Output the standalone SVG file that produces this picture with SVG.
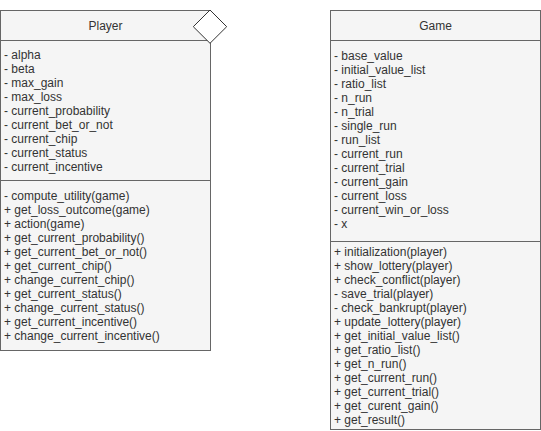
<svg xmlns="http://www.w3.org/2000/svg" width="541" height="431" viewBox="0 0 541 431">
<style>
.box{fill:#f5f5f5;stroke:#666666;stroke-width:1}
.sep{stroke:#666666;stroke-width:1;fill:none}
.t{font-family:"Liberation Sans",Arial,sans-serif;font-size:12px;fill:#333333}
.title{font-family:"Liberation Sans",Arial,sans-serif;font-size:12px;fill:#333333;text-anchor:middle}
.dia{fill:#ffffff;stroke:#333333;stroke-width:1}
</style>
<rect width="541" height="431" fill="#ffffff"/>
<g id="connectors"></g>
<g id="player">
<rect class="box" x="0.5" y="10.5" width="210" height="340"/>
<line class="sep" x1="0.5" y1="40.5" x2="210.5" y2="40.5"/>
<line class="sep" x1="0.5" y1="180.5" x2="210.5" y2="180.5"/>
<text class="title" x="105.5" y="30">Player</text>
<text class="t" x="4" y="59">- alpha</text>
<text class="t" x="4" y="73">- beta</text>
<text class="t" x="4" y="87">- max_gain</text>
<text class="t" x="4" y="101">- max_loss</text>
<text class="t" x="4" y="115">- current_probability</text>
<text class="t" x="4" y="129">- current_bet_or_not</text>
<text class="t" x="4" y="143">- current_chip</text>
<text class="t" x="4" y="157">- current_status</text>
<text class="t" x="4" y="171">- current_incentive</text>
<text class="t" x="4" y="200">- compute_utility(game)</text>
<text class="t" x="4" y="214">+ get_loss_outcome(game)</text>
<text class="t" x="4" y="228">+ action(game)</text>
<text class="t" x="4" y="242">+ get_current_probability()</text>
<text class="t" x="4" y="256">+ get_current_bet_or_not()</text>
<text class="t" x="4" y="270">+ get_current_chip()</text>
<text class="t" x="4" y="284">+ change_current_chip()</text>
<text class="t" x="4" y="298">+ get_current_status()</text>
<text class="t" x="4" y="312">+ change_current_status()</text>
<text class="t" x="4" y="326">+ get_current_incentive()</text>
<text class="t" x="4" y="340">+ change_current_incentive()</text>
</g>
<g id="diamond">
<polygon class="dia" points="210,10 226.7,26.7 210,43.3 193.3,26.7"/>
</g>
<g id="game">
<rect class="box" x="330.5" y="10.5" width="210" height="419"/>
<line class="sep" x1="330.5" y1="40.5" x2="540.5" y2="40.5"/>
<line class="sep" x1="330.5" y1="241.5" x2="540.5" y2="241.5"/>
<text class="title" x="435.5" y="30">Game</text>
<text class="t" x="334" y="60">- base_value</text>
<text class="t" x="334" y="74">- initial_value_list</text>
<text class="t" x="334" y="88">- ratio_list</text>
<text class="t" x="334" y="102">- n_run</text>
<text class="t" x="334" y="116">- n_trial</text>
<text class="t" x="334" y="130">- single_run</text>
<text class="t" x="334" y="144">- run_list</text>
<text class="t" x="334" y="158">- current_run</text>
<text class="t" x="334" y="172">- current_trial</text>
<text class="t" x="334" y="186">- current_gain</text>
<text class="t" x="334" y="200">- current_loss</text>
<text class="t" x="334" y="214">- current_win_or_loss</text>
<text class="t" x="334" y="228">- x</text>
<text class="t" x="334" y="256">+ initialization(player)</text>
<text class="t" x="334" y="270">+ show_lottery(player)</text>
<text class="t" x="334" y="284">+ check_conflict(player)</text>
<text class="t" x="334" y="298">- save_trial(player)</text>
<text class="t" x="334" y="312">- check_bankrupt(player)</text>
<text class="t" x="334" y="326">+ update_lottery(player)</text>
<text class="t" x="334" y="340">+ get_initial_value_list()</text>
<text class="t" x="334" y="354">+ get_ratio_list()</text>
<text class="t" x="334" y="368">+ get_n_run()</text>
<text class="t" x="334" y="382">+ get_current_run()</text>
<text class="t" x="334" y="396">+ get_current_trial()</text>
<text class="t" x="334" y="410">+ get_curent_gain()</text>
<text class="t" x="334" y="424">+ get_result()</text>
</g>
</svg>
